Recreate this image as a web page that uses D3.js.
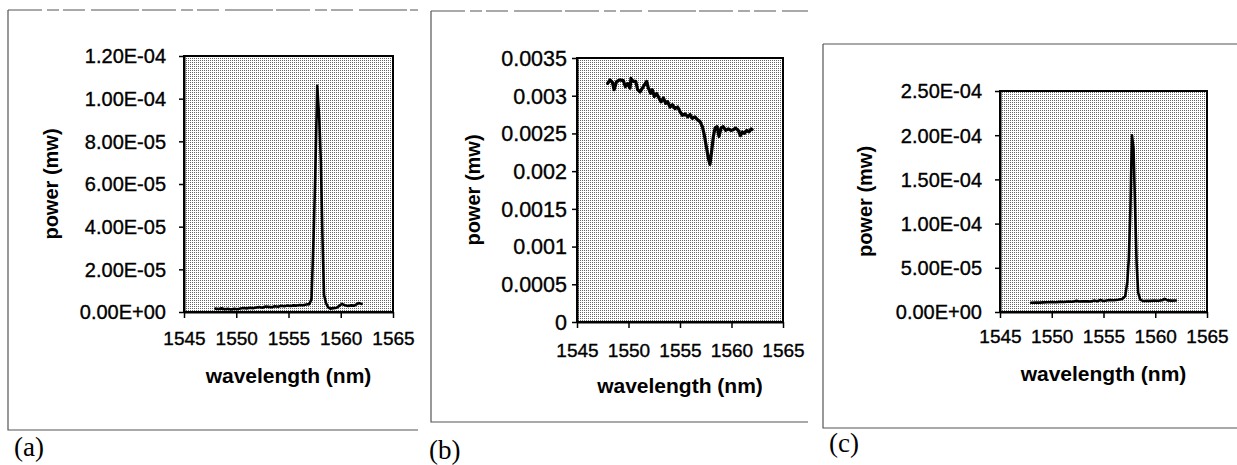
<!DOCTYPE html>
<html>
<head>
<meta charset="utf-8">
<script src="https://cdn.jsdelivr.net/npm/d3@7"></script>
<style>
  body { margin: 0; background: #fff; }
  svg text { font-family: "Liberation Sans", Arial, Helvetica, sans-serif; fill: #000; }
</style>
</head>
<body>
<svg id="chart" width="1237" height="465"></svg>
<script>
// ---- shared wavelength axis ----
const wavelengthTicks = [1545, 1550, 1555, 1560, 1565];
const wavelengthTickLabels = ["1545", "1550", "1555", "1560", "1565"];

// ---- panel (a): laser output, power in nW ----
const wavelengthA = [1548.0, 1548.3, 1548.6, 1548.9, 1549.2, 1549.5, 1549.8, 1550.1, 1550.4, 1550.7,
  1551.0, 1551.3, 1551.6, 1551.9, 1552.2, 1552.5, 1552.8, 1553.1, 1553.4, 1553.7,
  1554.0, 1554.3, 1554.6, 1554.9, 1555.2, 1555.5, 1555.8, 1556.1, 1556.4, 1556.7,
  1557.0, 1557.2, 1557.4, 1557.55, 1557.75, 1557.95, 1558.1, 1558.25, 1558.4, 1558.6,
  1558.8, 1559.0, 1559.3, 1559.6, 1559.9, 1560.1, 1560.4, 1560.7, 1561.0, 1561.3,
  1561.5, 1561.7, 1562.0];
const powerA_nW = [1.6, 1.4, 1.7, 1.3, 1.5, 1.2, 1.5, 1.3, 1.6, 1.9,
  1.7, 2.0, 1.8, 2.1, 2.3, 2.0, 2.6, 2.4, 2.2, 2.7,
  2.5, 2.9, 2.7, 3.0, 2.8, 3.1, 3.0, 3.3, 3.2, 3.5,
  3.7, 6, 35, 62, 106, 90, 70, 35, 8, 4.0,
  2.2, 1.6, 1.8, 2.0, 3.0, 3.8, 3.2, 2.8, 3.1, 3.0,
  3.6, 4.2, 3.8];
const powerTicksA = [0, 2e-5, 4e-5, 6e-5, 8e-5, 1e-4, 1.2e-4];
const powerTickLabelsA = ["0.00E+00", "2.00E-05", "4.00E-05", "6.00E-05", "8.00E-05", "1.00E-04", "1.20E-04"];

// ---- panel (b): transmitted signal, power in µW ----
const wavelengthB = [1547.98, 1548.2, 1548.43, 1548.6, 1548.85, 1549.17, 1549.5, 1549.7, 1549.92, 1550.15,
  1550.24, 1550.47, 1550.7, 1550.89, 1551.12, 1551.44, 1551.76, 1551.93, 1552.15, 1552.31,
  1552.51, 1552.73, 1552.96, 1553.15, 1553.38, 1553.61, 1553.8, 1554.03, 1554.26, 1554.51,
  1554.77, 1555.0, 1555.23, 1555.49, 1555.74, 1555.97, 1556.2, 1556.45, 1556.7, 1556.94,
  1557.17, 1557.36, 1557.59, 1557.75, 1557.91, 1558.07, 1558.24, 1558.4, 1558.6, 1558.79,
  1558.98, 1559.2, 1559.43, 1559.69, 1559.95, 1560.17, 1560.4, 1560.66, 1560.86, 1561.05,
  1561.25, 1561.47, 1561.7, 1561.9, 1562.0];
const powerB_uW = [3.164, 3.21, 3.18, 3.08, 3.19, 3.21, 3.20, 3.12, 3.16, 3.10,
  3.23, 3.19, 3.19, 3.08, 3.05, 3.12, 3.19, 3.10, 3.03, 3.08,
  2.99, 3.03, 2.97, 2.92, 2.97, 2.90, 2.92, 2.85, 2.88, 2.83,
  2.85, 2.79, 2.74, 2.76, 2.72, 2.75, 2.70, 2.72, 2.68, 2.66,
  2.59, 2.48, 2.30, 2.17, 2.09, 2.26, 2.46, 2.57, 2.59, 2.46,
  2.57, 2.59, 2.54, 2.56, 2.54, 2.55, 2.57, 2.54, 2.47, 2.52,
  2.50, 2.54, 2.52, 2.56, 2.55];
const powerTicksB = [0, 0.0005, 0.001, 0.0015, 0.002, 0.0025, 0.003, 0.0035];
const powerTickLabelsB = ["0", "0.0005", "0.001", "0.0015", "0.002", "0.0025", "0.003", "0.0035"];

// ---- panel (c): laser output, power in nW ----
const wavelengthC = [1548.0, 1548.4, 1548.8, 1549.2, 1549.6, 1550.0, 1550.4, 1550.8, 1551.2, 1551.6,
  1552.0, 1552.4, 1552.7, 1553.0, 1553.4, 1553.8, 1554.1, 1554.4, 1554.7, 1555.0,
  1555.3, 1555.6, 1556.0, 1556.4, 1556.8, 1557.1, 1557.3, 1557.45, 1557.6, 1557.75,
  1557.9, 1558.05, 1558.2, 1558.35, 1558.55, 1558.8, 1559.1, 1559.5, 1559.9, 1560.3,
  1560.7, 1560.9, 1561.2, 1561.6, 1562.0];
const powerC_nW = [10.5, 10.8, 10.6, 10.9, 11.0, 11.2, 11.0, 11.5, 11.3, 11.8,
  11.6, 12.6, 11.9, 12.1, 12.0, 11.8, 12.9, 12.2, 13.6, 12.4,
  13.0, 13.5, 13.3, 13.9, 14.8, 18, 34, 61, 117, 200,
  185, 120, 55, 22, 14, 12.5, 12.8, 12.6, 13.0, 12.8,
  13.4, 14.8, 13.2, 12.9, 13.0];
const powerTicksC = [0, 5e-5, 1e-4, 1.5e-4, 2e-4, 2.5e-4];
const powerTickLabelsC = ["0.00E+00", "5.00E-05", "1.00E-04", "1.50E-04", "2.00E-04", "2.50E-04"];

const panelLabels = ["(a)", "(b)", "(c)"];

// ---- drawing ----
const svg = d3.select("#chart");
svg.append("rect").attr("width", 1237).attr("height", 465).attr("fill", "#fff");

// halftone-like stipple used for the plot areas
const defs = svg.append("defs");
const pat = defs.append("pattern").attr("id", "stipple")
  .attr("width", 2).attr("height", 2).attr("patternUnits", "userSpaceOnUse");
pat.append("rect").attr("width", 2).attr("height", 2).attr("fill", "#fff");
pat.append("rect").attr("width", 1).attr("height", 1).attr("fill", "#666");

const panels = [
  { wl: wavelengthA, pw: powerA_nW.map(v => v * 1e-6), ticks: powerTicksA, labels: powerTickLabelsA,
    yMax: 1.2e-4, left: 184, right: 393, top: 56, bottom: 312,
    yFont: 20, yPad: 13, xPad: 13.5, titleDy: 71, yTitleX: 58, lineW: 2.6,
    frame: { x0: 8, y0: 10, x1: 418, y1: 430 }, tag: { x: 14, y: 456 } },
  { wl: wavelengthB, pw: powerB_uW.map(v => v * 1e-3), ticks: powerTicksB, labels: powerTickLabelsB,
    yMax: 0.0035, left: 577, right: 783, top: 58, bottom: 322,
    yFont: 21.5, yPad: 5, xPad: 16, titleDy: 71, yTitleX: 480, lineW: 3.2,
    frame: { x0: 431, y0: 11, x1: 808, y1: 422 }, tag: { x: 429, y: 459 } },
  { wl: wavelengthC, pw: powerC_nW.map(v => v * 1e-6), ticks: powerTicksC, labels: powerTickLabelsC,
    yMax: 2.5e-4, left: 1000, right: 1207, top: 91, bottom: 312,
    yFont: 20, yPad: 13, xPad: 11.5, titleDy: 69, yTitleX: 872, lineW: 2.6,
    frame: { x0: 823, y0: 44, x1: 1237, y1: 428 }, tag: { x: 829, y: 452 } }
];

panels.forEach((p, k) => {
  const g = svg.append("g");

  // outer chart frame (open on the right side)
  const f = p.frame;
  g.append("path")
    .attr("d", `M${f.x0},${f.y0}H${f.x1}`)
    .attr("stroke", "#555").attr("stroke-width", 1.2).attr("fill", "none")
    .attr("stroke-dasharray", k < 2 ? "34 5 12 4 22 6 48 3" : null);
  g.append("path")
    .attr("d", `M${f.x0},${f.y0}V${f.y1}H${f.x1}`)
    .attr("stroke", "#555").attr("stroke-width", 1.2).attr("fill", "none");

  const x = d3.scaleLinear().domain([1545, 1565]).range([p.left, p.right]);
  const y = d3.scaleLinear().domain([0, p.yMax]).range([p.bottom, p.top]);

  // plot area
  g.append("rect")
    .attr("x", p.left).attr("y", p.top)
    .attr("width", p.right - p.left).attr("height", p.bottom - p.top)
    .attr("fill", "url(#stipple)")
    .attr("stroke", "#000").attr("stroke-width", 2);

  // y axis
  const ya = g.append("g").attr("transform", `translate(${p.left},0)`)
    .call(d3.axisLeft(y).tickValues(p.ticks).tickFormat((d, i) => p.labels[i])
      .tickSize(5).tickSizeOuter(0).tickPadding(p.yPad));
  ya.select(".domain").attr("stroke", "#000").attr("stroke-width", 2);
  ya.selectAll(".tick line").attr("stroke", "#000").attr("stroke-width", 1.5);
  ya.selectAll(".tick text").style("font-size", p.yFont + "px").attr("dy", "0.34em")
    .attr("stroke", "#000").attr("stroke-width", 0.35);

  // x axis
  const xa = g.append("g").attr("transform", `translate(0,${p.bottom})`)
    .call(d3.axisBottom(x).tickValues(wavelengthTicks).tickFormat((d, i) => wavelengthTickLabels[i])
      .tickSize(6).tickSizeOuter(0).tickPadding(p.xPad));
  xa.select(".domain").attr("stroke", "#000").attr("stroke-width", 2);
  xa.selectAll(".tick line").attr("stroke", "#000").attr("stroke-width", 1.5);
  xa.selectAll(".tick text").style("font-size", "19px")
    .attr("stroke", "#000").attr("stroke-width", 0.35);

  // spectrum trace
  const pts = p.wl.map((w, i) => [w, p.pw[i]]);
  g.append("path")
    .datum(pts)
    .attr("fill", "none").attr("stroke", "#000").attr("stroke-width", p.lineW)
    .attr("stroke-linejoin", "round").attr("stroke-linecap", "round")
    .attr("d", d3.line().x(d => x(d[0])).y(d => y(d[1])));

  // axis titles
  g.append("text")
    .attr("x", (p.left + p.right) / 2).attr("y", p.bottom + p.titleDy)
    .attr("text-anchor", "middle")
    .style("font-size", "21px").style("font-weight", "bold")
    .text("wavelength (nm)");
  g.append("text")
    .attr("transform", `translate(${p.yTitleX},${(p.top + p.bottom) / 2}) rotate(-90)`)
    .attr("text-anchor", "middle")
    .style("font-size", "20px").style("font-weight", "bold")
    .text("power (mw)");

  // panel tag
  g.append("text")
    .attr("x", p.tag.x).attr("y", p.tag.y)
    .style("font-family", "'Liberation Serif', 'Times New Roman', serif")
    .style("font-size", "27px")
    .text(panelLabels[k]);
});
</script>
</body>
</html>
